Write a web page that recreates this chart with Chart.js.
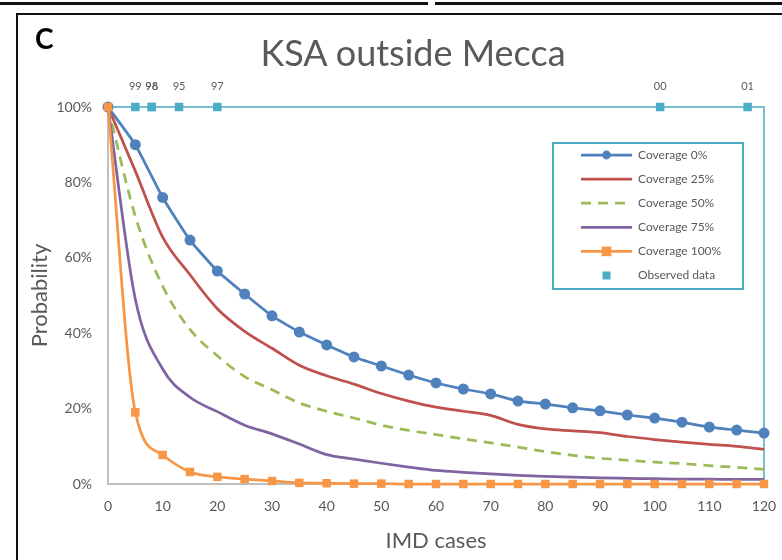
<!DOCTYPE html>
<html>
<head>
<meta charset="utf-8">
<script src="https://cdn.jsdelivr.net/npm/chart.js@4.4.1/dist/chart.umd.min.js"></script>
<style>
  html, body { margin: 0; padding: 0; background: #fff; }
  #wrap { position: relative; width: 782px; height: 560px; overflow: hidden; font-family: Lato, "Open Sans", sans-serif; }
  #chart { position: absolute; left: 0; top: 0; }
  .rule { position: absolute; background: #111; }
  #panel { position: absolute; left: 35px; top: 24px; font: bold 28px/28px Lato, sans-serif; color: #000; }
  #title { position: absolute; left: 0; width: 826px; top: 34px; text-align: center; font-size: 36px; line-height: 36px; color: #595959; }
</style>
</head>
<body>
<div id="wrap">
  <canvas id="chart" width="782" height="560"></canvas>
  <div class="rule" style="left:0;top:2px;width:428px;height:3px"></div>
  <div class="rule" style="left:435px;top:2px;width:347px;height:3px"></div>
  <div class="rule" style="left:16px;top:13px;width:766px;height:2px"></div>
  <div class="rule" style="left:16px;top:13px;width:2px;height:547px"></div>
  <div id="panel">C</div>
  <div id="title">KSA outside Mecca</div>
</div>
<script>
'use strict';

const cases = [0, 5, 10, 15, 20, 25, 30, 35, 40, 45, 50, 55, 60, 65, 70, 75, 80, 85, 90, 95, 100, 105, 110, 115, 120];
const cov0   = [100, 90, 76, 64.7, 56.5, 50.4, 44.6, 40.3, 36.9, 33.7, 31.3, 28.9, 26.8, 25.2, 23.9, 22.0, 21.2, 20.2, 19.4, 18.3, 17.5, 16.4, 15.1, 14.3, 13.5];
const cov25  = [100, 83, 65.5, 55.5, 46.5, 40.5, 36, 31.5, 28.7, 26.5, 24, 22, 20.4, 19.3, 18.2, 15.8, 14.6, 14.1, 13.6, 12.6, 11.8, 11.1, 10.5, 10.0, 9.2];
const cov50  = [100, 71, 52.5, 41, 34, 28.5, 25, 21.5, 19.3, 17.5, 15.6, 14.2, 13.1, 12.0, 10.9, 9.8, 8.6, 7.6, 6.8, 6.3, 5.8, 5.4, 4.9, 4.4, 3.9];
const cov75  = [100, 49, 30.5, 23, 19.2, 15.6, 13.3, 10.6, 7.8, 6.6, 5.5, 4.5, 3.6, 3.1, 2.7, 2.3, 2.0, 1.8, 1.6, 1.5, 1.4, 1.3, 1.3, 1.2, 1.2];
const cov100 = [100, 19, 7.7, 3.2, 1.9, 1.3, 0.8, 0.3, 0.2, 0.1, 0.1, 0, 0, 0, 0, 0, 0, 0, 0, 0, 0, 0, 0, 0, 0];

const obsCases = [5, 8, 8, 13, 20, 101, 117];
const obsProb  = [100, 100, 100, 100, 100, 100, 100];
const obsYears = ['99', '96', '98', '95', '97', '00', '01'];

const frameCases = [0, 120, 120];
const frameProb  = [100, 100, 0];

const xTicks = [0, 10, 20, 30, 40, 50, 60, 70, 80, 90, 100, 110, 120];
const yTicks = [0, 20, 40, 60, 80, 100];

const FONT = 'Lato, "Open Sans", sans-serif';
const GREY = '#595959';
const TEAL = '#4BACC6';

const pts = (xs, ys) => xs.map((x, i) => ({ x, y: ys[i] }));

const series = [
  { label: 'Coverage 0%',   data: cov0,   color: '#4F81BD', point: 'circle', radius: 5.5, tension: 0.15, order: 5 },
  { label: 'Coverage 25%',  data: cov25,  color: '#C0504D', point: false, order: 4 },
  { label: 'Coverage 50%',  data: cov50,  color: '#9BBB59', point: false, dash: [10, 7], order: 3 },
  { label: 'Coverage 75%',  data: cov75,  color: '#8064A2', point: false, order: 2 },
  { label: 'Coverage 100%', data: cov100, color: '#F79646', point: 'rect', radius: 6, order: 1 },
];

const datasets = series.map(s => ({
  label: s.label,
  data: pts(cases, s.data),
  borderColor: s.color,
  backgroundColor: s.color,
  borderWidth: 2.75,
  borderDash: s.dash || [],
  pointStyle: s.point || 'circle',
  pointRadius: s.point ? s.radius : 0,
  pointBorderWidth: 0,
  cubicInterpolationMode: s.tension ? 'default' : 'monotone',
  tension: s.tension || 0,
  order: s.order,
  clip: false,
  legendMarker: s.point ? s.radius * 0.8 : 0,
}));

datasets.push({
  label: 'Observed data',
  data: pts(obsCases, obsProb),
  showLine: false,
  borderColor: TEAL,
  backgroundColor: TEAL,
  pointStyle: 'rect',
  pointRadius: 6,
  pointBorderWidth: 0,
  order: 0,
  clip: false,
  legendMarker: 4,
  yearLabels: obsYears,
});

datasets.push({
  label: '',
  data: pts(frameCases, frameProb),
  borderColor: TEAL,
  borderWidth: 1.5,
  pointRadius: 0,
  order: 6,
  clip: false,
  hideInLegend: true,
});

// year labels over the observed squares
const yearLabelPlugin = {
  id: 'yearLabels',
  afterDatasetsDraw(chart) {
    const ctx = chart.ctx;
    chart.data.datasets.forEach((ds, i) => {
      if (!ds.yearLabels) return;
      const meta = chart.getDatasetMeta(i);
      ctx.save();
      ctx.font = '11px ' + FONT;
      ctx.fillStyle = GREY;
      ctx.textAlign = 'center';
      ctx.textBaseline = 'middle';
      meta.data.forEach((el, j) => ctx.fillText(ds.yearLabels[j], el.x, el.y - 21));
      ctx.restore();
    });
  },
};

// boxed legend inside the plot, as in the original figure
const boxLegendPlugin = {
  id: 'boxLegend',
  afterDraw(chart) {
    const ctx = chart.ctx;
    const box = { x: 553, y: 143, w: 190, h: 146 };
    ctx.save();
    ctx.fillStyle = '#fff';
    ctx.fillRect(box.x, box.y, box.w, box.h);
    ctx.strokeStyle = TEAL;
    ctx.lineWidth = 2;
    ctx.strokeRect(box.x, box.y, box.w, box.h);
    ctx.font = '12px ' + FONT;
    ctx.textBaseline = 'middle';
    ctx.textAlign = 'left';
    let y = box.y + 12;
    chart.data.datasets.forEach(ds => {
      if (ds.hideInLegend) return;
      if (ds.showLine !== false) {
        ctx.strokeStyle = ds.borderColor;
        ctx.lineWidth = 2.75;
        ctx.setLineDash(ds.borderDash || []);
        ctx.beginPath();
        ctx.moveTo(581, y);
        ctx.lineTo(632, y);
        ctx.stroke();
        ctx.setLineDash([]);
      }
      if (ds.legendMarker) {
        ctx.fillStyle = ds.backgroundColor;
        const r = ds.legendMarker;
        if (ds.pointStyle === 'rect') ctx.fillRect(606.5 - r, y - r, 2 * r, 2 * r);
        else { ctx.beginPath(); ctx.arc(606.5, y, r, 0, Math.PI * 2); ctx.fill(); }
      }
      ctx.fillStyle = GREY;
      ctx.fillText(ds.label, 638, y);
      y += 24.1;
    });
    ctx.restore();
  },
};

new Chart(document.getElementById('chart'), {
  type: 'line',
  data: { datasets },
  options: {
    responsive: false,
    animation: false,
    layout: { padding: { top: 107, right: 18, left: 0, bottom: 0 } },
    plugins: { legend: { display: false }, tooltip: { enabled: false } },
    scales: {
      x: {
        type: 'linear',
        min: 0,
        max: 120,
        afterBuildTicks: s => { s.ticks = xTicks.map(v => ({ value: v })); },
        afterFit: s => { s.height = 76; s.paddingLeft = 0; s.paddingRight = 0; },
        grid: { display: false, drawTicks: false },
        border: { color: '#BFBFBF', width: 2 },
        ticks: { color: GREY, font: { family: FONT, size: 14 }, padding: 14, maxRotation: 0 },
        title: { display: true, text: 'IMD cases', color: GREY, font: { family: FONT, size: 22 }, padding: { top: 0, bottom: 6 } },
      },
      y: {
        min: 0,
        max: 100,
        afterBuildTicks: s => { s.ticks = yTicks.map(v => ({ value: v })); },
        afterFit: s => { s.width = 108; s.paddingTop = 0; s.paddingBottom = 0; },
        grid: { display: false, drawTicks: false },
        border: { color: '#BFBFBF', width: 2 },
        ticks: { color: GREY, font: { family: FONT, size: 14 }, padding: 16, callback: v => v + '%' },
        title: { display: true, text: 'Probability', color: GREY, font: { family: FONT, size: 22 }, padding: { top: 27, bottom: 0 } },
      },
    },
  },
  plugins: [yearLabelPlugin, boxLegendPlugin],
});
</script>
</body>
</html>
